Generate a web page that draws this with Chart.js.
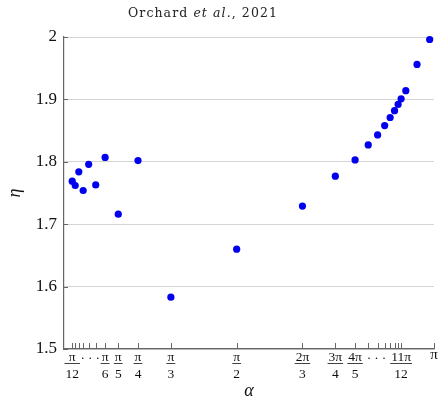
<!DOCTYPE html>
<html><head><meta charset="utf-8">
<script src="https://cdn.jsdelivr.net/npm/chart.js@4"></script>
<style>html,body{margin:0;padding:0;background:#fff}#wrap{width:439px;height:400px;position:relative}</style>
</head><body><div id="wrap"><canvas id="c"></canvas></div>
<script>
const PI = Math.PI;
// α values (as fractions of π) and measured η
const alphaFractions = [1/12,1/11,1/10,1/9,1/8,1/7,1/6,1/5,1/4,1/3,1/2,2/3,3/4,4/5,5/6,6/7,7/8,8/9,9/10,10/11,11/12,13/14,0.957,0.989];
const etaValues = [1.769,1.762,1.784,1.754,1.796,1.763,1.807,1.716,1.802,1.583,1.660,1.729,1.777,1.803,1.827,1.843,1.858,1.871,1.882,1.892,1.901,1.914,1.956,1.996];
// x-axis tick marks (fractions of π)
const tickFractions = [1/12,1/11,1/10,1/9,1/8,1/7,1/6,1/5,1/4,1/3,1/2,2/3,3/4,4/5,5/6,6/7,7/8,8/9,9/10,10/11,11/12,1];
// labelled x ticks
const labelFractions = [1/12,1/6,1/5,1/4,1/3,1/2,2/3,3/4,4/5,11/12,1];
const labelNumerators = ['π','π','π','π','π','π','2π','3π','4π','11π','π'];
const labelDenominators = ['12','6','5','4','3','2','3','4','5','12',''];
// ellipses between labelled ticks (index pairs into labelFractions)
const ellipsisPairs = [[0,1],[8,9]];
// y ticks
const yTickValues = [1.5,1.6,1.7,1.8,1.9,2.0];
const titleParts = [['Orchard ','normal'],['et al.','italic'],[', 2021','normal']];

const points = alphaFractions.map((f,i)=>({x:f*PI,y:etaValues[i]}));
const SERIF = '"Liberation Serif", "DejaVu Serif", serif';
const TSERIF = '"DejaVu Serif", "Liberation Serif", serif';
Chart.defaults.font.family = SERIF;
Chart.defaults.color = '#111';

const axisDeco = {
  id:'axisDeco',
  afterDraw(chart){
    const ctx=chart.ctx, xs=chart.scales.x, ys=chart.scales.y, ca=chart.chartArea;
    ctx.save();
    ctx.strokeStyle='#666'; ctx.lineWidth=1;
    tickFractions.forEach(f=>{
      const px=Math.round(xs.getPixelForValue(f*PI))+0.5;
      ctx.beginPath(); ctx.moveTo(px,ca.bottom); ctx.lineTo(px,ca.bottom-6); ctx.stroke();
    });
    yTickValues.forEach(v=>{
      const py=Math.round(ys.getPixelForValue(v))+0.5;
      ctx.beginPath(); ctx.moveTo(ca.left,py); ctx.lineTo(ca.left+4,py); ctx.stroke();
    });
    // fraction labels
    ctx.fillStyle='#111'; ctx.strokeStyle='#111';
    ctx.textAlign='center'; ctx.textBaseline='alphabetic';
    const edges=[];
    labelFractions.forEach((f,i)=>{
      const px=xs.getPixelForValue(f*PI);
      const num=labelNumerators[i], den=labelDenominators[i];
      if(!den){
        ctx.font='15px '+SERIF;
        ctx.fillText(num,px,359);
        const w=ctx.measureText(num).width;
        edges.push([px-w/2,px+w/2]);
        return;
      }
      ctx.font='13.5px '+SERIF;
      const w=Math.max(ctx.measureText(num).width,ctx.measureText(den).width)+2;
      ctx.fillText(num,px,361);
      ctx.lineWidth=0.8;
      ctx.beginPath(); ctx.moveTo(px-w/2,363.5); ctx.lineTo(px+w/2,363.5); ctx.stroke();
      ctx.fillText(den,px,378);
      edges.push([px-w/2,px+w/2]);
    });
    ctx.font='13.5px '+SERIF;
    ellipsisPairs.forEach(([a,b])=>{
      const mid=(edges[a][1]+edges[b][0])/2;
      [-7.5,0,7.5].forEach(d=>ctx.fillText('·',mid+d,362));
    });
    // title
    let total=0; const widths=[];
    titleParts.forEach(([t,st])=>{ctx.font=st+' 12.5px '+TSERIF; const w=ctx.measureText(t).width; widths.push(w); total+=w;});
    const nChars=titleParts.reduce((s,p)=>s+p[0].length,0);
    const target=150;
    const ls=(target-total)/nChars;
    ctx.letterSpacing=ls+'px';
    ctx.textAlign='left';
    ctx.fillStyle='#222';
    let x=203-target/2;
    titleParts.forEach(([t,st],i)=>{
      ctx.font=st+' 12.5px '+TSERIF;
      ctx.fillText(t,x,17);
      x+=widths[i]+ls*t.length;
    });
    ctx.restore();
  }
};

new Chart(document.getElementById('c'),{
  type:'scatter',
  data:{datasets:[{data:points,backgroundColor:'#0000ee',borderWidth:0,pointRadius:3.6,pointHoverRadius:3.6,clip:false}]},
  options:{
    responsive:true,maintainAspectRatio:false,animation:false,
    layout:{padding:{left:0,right:5,top:37,bottom:0}},
    plugins:{legend:{display:false},tooltip:{enabled:false}},
    scales:{
      x:{type:'linear',min:PI/16,max:PI,
        afterFit(s){s.height=51;},
        ticks:{display:false},
        grid:{display:false},
        border:{display:true,color:'#666',width:1.2},
        title:{display:true,text:'α',font:{size:18,style:'italic',lineHeight:1},padding:{top:0,bottom:0},color:'#111'}
      },
      y:{min:1.5,max:2,
        afterFit(s){s.width=64;},
        afterBuildTicks(s){s.ticks=yTickValues.map(v=>({value:v}));},
        ticks:{padding:7,font:{size:17},color:'#111',callback:v=>(Math.abs(v-2)<1e-9?'2':v.toFixed(1))},
        grid:{color:'rgb(212,212,212)',lineWidth:1,drawTicks:false},
        border:{display:true,color:'#666',width:1.2},
        title:{display:true,text:'η',font:{size:18,style:'italic',lineHeight:1.2},padding:{top:4,bottom:0},color:'#111'}
      }
    }
  },
  plugins:[axisDeco]
});
</script></body></html>
